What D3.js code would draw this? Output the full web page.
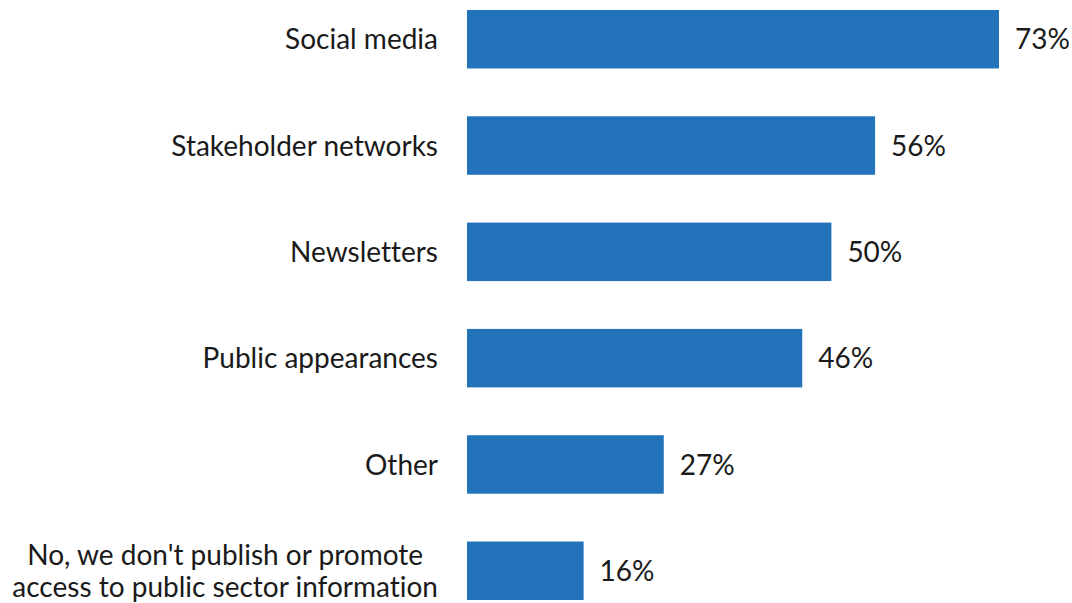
<!DOCTYPE html>
<html>
<head>
<meta charset="utf-8">
<script src="https://cdn.jsdelivr.net/npm/d3@7"></script>
<style>
  html, body { margin: 0; padding: 0; background: #fff; }
  svg text { font-family: Lato, "Open Sans", sans-serif; fill: #1a1a1a; font-variant-ligatures: none; }
</style>
</head>
<body>
<svg id="chart" width="1072" height="603"></svg>
<script>
// Channels used to publish or promote access to public sector information
const categories = [
  ["Social media"],
  ["Stakeholder networks"],
  ["Newsletters"],
  ["Public appearances"],
  ["Other"],
  ["No, we don't publish or promote", "access to public sector information"]
];
const values = [73, 56, 50, 46, 27, 16];

const svg = d3.select("#chart");
const left = 467, labelRight = 438;
const fontSize = 28;

const x = d3.scaleLinear().domain([0, 73]).range([left, 999]);
const y = d3.scaleBand()
  .domain(d3.range(categories.length))
  .range([10, 600])
  .paddingInner(0.45)
  .paddingOuter(0);

const barColor = "#2273BA";

svg.selectAll("rect.bar")
  .data(values)
  .join("rect")
  .attr("class", "bar")
  .attr("x", x(0))
  .attr("y", (d, i) => y(i))
  .attr("width", d => x(d) - x(0))
  .attr("height", y.bandwidth())
  .attr("fill", barColor);

svg.selectAll("text.value")
  .data(values)
  .join("text")
  .attr("class", "value")
  .attr("x", d => x(d) + 16)
  .attr("y", (d, i) => y(i) + y.bandwidth() / 2)
  .attr("dy", "0.36em")
  .attr("font-size", fontSize)
  .text(d => d + "%");

// Category labels: right edge of each block at labelRight, multi-line blocks centred
const lineH = 32;
categories.forEach((lines, i) => {
  const g = svg.append("g");
  const cy = y(i) + y.bandwidth() / 2;
  const texts = lines.map((ln, j) =>
    g.append("text")
      .attr("font-size", fontSize)
      .attr("y", cy + (j - (lines.length - 1) / 2) * lineH)
      .attr("dy", "0.36em")
      .text(ln));
  const widths = texts.map(t => t.node().getComputedTextLength());
  const maxW = d3.max(widths);
  texts.forEach(t => t.attr("text-anchor", "middle").attr("x", labelRight - maxW / 2));
});
</script>
</body>
</html>
